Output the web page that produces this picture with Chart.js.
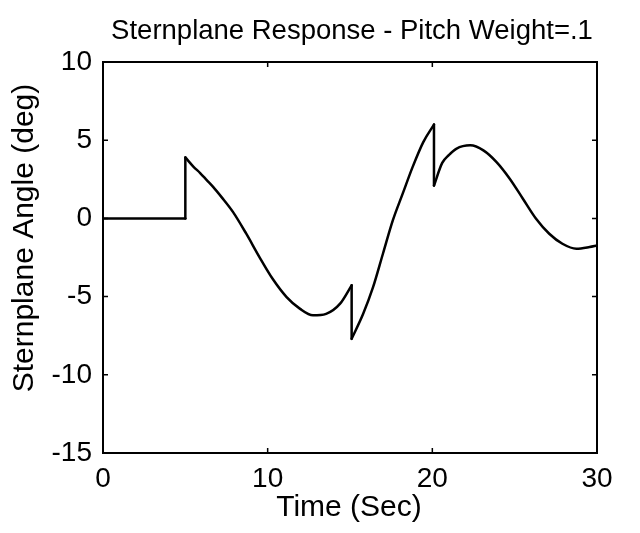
<!DOCTYPE html>
<html><head><meta charset="utf-8">
<script src="https://cdn.jsdelivr.net/npm/chart.js@4"></script>
<style>html,body{margin:0;padding:0;background:#fff}#wrap{width:640px;height:533px}</style>
</head><body><div id="wrap"><canvas id="c" width="640" height="533"></canvas></div>
<script>
const timeSec = [0, 5, 5, 5.5, 5.9, 6.3, 6.7, 7.2, 7.9, 8.7, 9.5, 10.3, 11.15, 11.95, 12.75, 13.55, 14.4, 15.1, 15.1, 15.8, 16.4, 17.0, 17.6, 18.2, 18.8, 19.45, 20.1, 20.1, 20.6, 21.0, 21.45, 22.3, 23.1, 23.9, 24.7, 25.5, 26.3, 27.1, 27.9, 28.75, 29.55, 30];
const angleDeg = [0, 0, 3.9, 3.3, 2.9, 2.45, 2.0, 1.36, 0.4, -0.98, -2.47, -3.86, -5.03, -5.77, -6.2, -6.1, -5.45, -4.28, -7.7, -6.1, -4.4, -2.26, -0.13, 1.58, 3.28, 4.88, 6.0, 2.1, 3.55, 4.05, 4.45, 4.67, 4.35, 3.6, 2.54, 1.26, -0.02, -0.98, -1.62, -1.94, -1.83, -1.73];
const xTicks = [0, 10, 20, 30];
const yTicks = [-15, -10, -5, 0, 5, 10];
const titleText = 'Sternplane Response - Pitch Weight=.1';
const xLabel = 'Time (Sec)';
const yLabel = 'Sternplane Angle (deg)';

const FONT = "'Liberation Sans', Arial, Helvetica, sans-serif";

// split the series into smooth runs (between the vertical jumps) and jump segments
const runs = [];
let cur = [];
const jumps = [];
for (let i = 0; i < timeSec.length; i++) {
  if (i > 0 && timeSec[i] === timeSec[i - 1]) {
    runs.push(cur);
    jumps.push([{x: timeSec[i - 1], y: angleDeg[i - 1]}, {x: timeSec[i], y: angleDeg[i]}]);
    cur = [];
  }
  cur.push({x: timeSec[i], y: angleDeg[i]});
}
runs.push(cur);

const common = {borderColor: '#000', borderWidth: 2.5, pointRadius: 0, fill: false, borderCapStyle: 'round', borderJoinStyle: 'round'};
const datasets = [
  ...runs.map(r => ({...common, data: r, tension: 0.4, cubicInterpolationMode: 'monotone'})),
  ...jumps.map(j => ({...common, data: j, tension: 0}))
];

const framePlugin = {
  id: 'frame',
  afterDraw(chart) {
    const {ctx, chartArea: a, scales} = chart;
    ctx.save();
    ctx.strokeStyle = '#000';
    ctx.lineWidth = 2;
    ctx.strokeRect(a.left, a.top, a.right - a.left, a.bottom - a.top);
    ctx.lineWidth = 1.5;
    const L = 5;
    ctx.beginPath();
    xTicks.forEach(v => {
      const x = scales.x.getPixelForValue(v);
      ctx.moveTo(x, a.bottom); ctx.lineTo(x, a.bottom - L);
      ctx.moveTo(x, a.top); ctx.lineTo(x, a.top + L);
    });
    yTicks.forEach(v => {
      const y = scales.y.getPixelForValue(v);
      ctx.moveTo(a.left, y); ctx.lineTo(a.left + L, y);
      ctx.moveTo(a.right, y); ctx.lineTo(a.right - L, y);
    });
    ctx.stroke();
    ctx.fillStyle = '#000';
    ctx.textAlign = 'center';
    ctx.textBaseline = 'middle';
    ctx.font = '27.5px ' + FONT;
    ctx.fillText(titleText, 352, 31);
    ctx.font = '30px ' + FONT;
    ctx.fillText(xLabel, 349, 508);
    ctx.translate(25, 238);
    ctx.rotate(-Math.PI / 2);
    ctx.fillText(yLabel, 0, 0);
    ctx.restore();
  }
};

new Chart(document.getElementById('c'), {
  type: 'line',
  data: {datasets},
  options: {
    responsive: false,
    animation: false,
    devicePixelRatio: 1,
    layout: {padding: {left: 0, right: 43, top: 62, bottom: 0}},
    plugins: {
      legend: {display: false},
      tooltip: {enabled: false},
      title: {display: false}
    },
    scales: {
      x: {
        type: 'linear', min: 0, max: 30,
        afterBuildTicks: s => { s.ticks = xTicks.map(v => ({value: v})); },
        afterFit: s => { s.height = 80; },
        grid: {display: false, drawTicks: false},
        border: {display: false},
        ticks: {color: '#000', font: {family: FONT, size: 28}, padding: 9, maxRotation: 0}
      },
      y: {
        type: 'linear', min: -15, max: 10,
        afterBuildTicks: s => { s.ticks = yTicks.map(v => ({value: v})); },
        afterFit: s => { s.width = 103; },
        grid: {display: false, drawTicks: false},
        border: {display: false},
        ticks: {color: '#000', font: {family: FONT, size: 28}, padding: 11}
      }
    }
  },
  plugins: [framePlugin]
});
</script>
</body></html>
